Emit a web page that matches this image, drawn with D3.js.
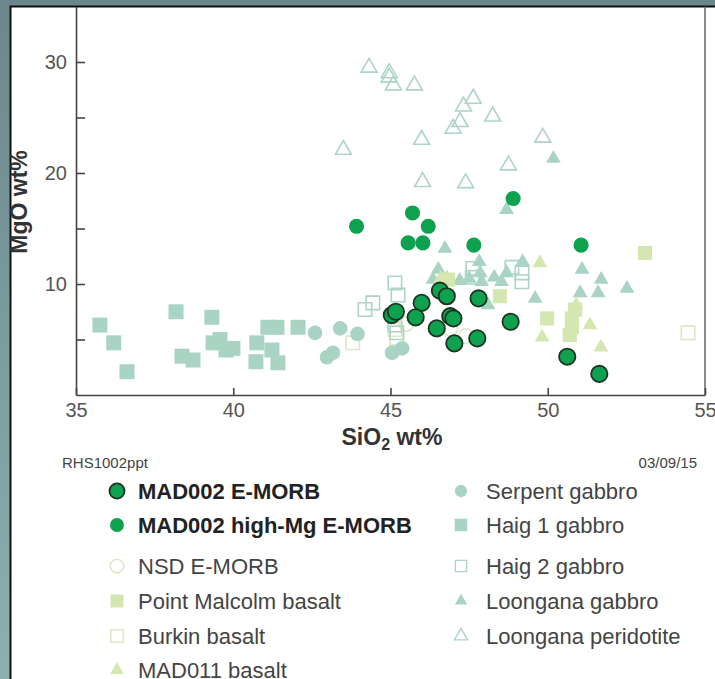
<!DOCTYPE html>
<html>
<head>
<meta charset="utf-8">
<script src="https://cdn.jsdelivr.net/npm/d3@7"></script>
<style>
    html, body { margin: 0; padding: 0; background: #6f8d91; }
    svg { display: block; font-family: "Liberation Sans", Arial, sans-serif; }
</style>
</head>
<body>
<div id="chart"></div>
<script>
// [SiO2 wt%, MgO wt%]
const mad002Emorb = [[45.04,7.2],[45.17,7.5],[45.99,8.3],[45.8,7.0],[46.57,9.4],[46.79,8.9],[46.47,6.0],
    [46.9,7.1],[47.0,6.9],[47.03,4.65],[47.8,8.7],[47.76,5.1],[48.82,6.6],[50.62,3.45],[51.64,1.9]];
const mad002HighMg = [[43.92,15.2],[45.7,16.4],[46.2,15.2],[48.9,17.7],[45.56,13.7],[46.03,13.7],[47.65,13.5],[51.06,13.5]];
const nsdEmorb = [[46.9,6.0],[47.4,5.3],[45.5,6.4]];
const pointMalcolm = [[53.09,12.8],[48.48,8.9],[49.98,6.9],[50.77,6.9],[50.77,6.1],[50.7,5.4],[50.87,7.7],[46.83,10.4]];
const burkin = [[54.46,5.6],[43.8,4.7],[45.15,5.9],[45.2,5.1]];
const mad011 = [[49.75,11.9],[49.82,5.2],[51.34,6.3],[51.69,4.3],[50.9,8.1],[46.6,10.5]];
const serpent = [[42.6,5.6],[43.4,6.0],[42.98,3.4],[43.17,3.8],[43.95,5.5],[45.05,3.8],[45.37,4.2]];
const haig1 = [[35.76,6.3],[36.2,4.7],[36.62,2.1],[38.18,7.5],[38.37,3.5],[38.72,3.15],[39.32,7.0],[39.36,4.7],
    [39.58,5.0],[39.77,4.05],[39.99,4.2],[40.75,4.7],[40.72,3.0],[41.1,6.1],[41.39,6.1],[41.23,4.05],[41.42,2.9],[42.06,6.1]];
const haig2 = [[45.14,10.1],[45.24,9.0],[44.44,8.3],[44.19,7.7],[45.14,6.3],[45.2,5.6],[47.62,11.4],[48.86,11.5],
    [49.18,11.0],[49.18,10.2],[47.6,10.6]];
const loonganaGabbro = [[50.18,21.3],[48.69,16.7],[46.73,13.2],[47.82,12.0],[49.2,12.0],[46.52,11.3],[51.09,11.3],
    [46.8,10.5],[47.2,10.3],[47.5,10.5],[47.85,11.0],[47.9,10.2],[48.69,11.0],[48.53,10.2],[51.7,10.4],[52.52,9.6],
    [51.03,9.2],[51.6,9.2],[49.6,8.7],[48.1,8.1],[46.35,10.4],[48.3,10.6]];
const loonganaPeridotite = [[44.32,29.5],[44.96,29.0],[44.96,28.6],[45.09,27.9],[45.76,27.9],[47.63,26.7],[47.32,26.0],
    [47.21,24.6],[46.99,24.0],[48.25,25.1],[45.99,23.0],[43.5,22.1],[49.84,23.2],[48.75,20.7],[46.02,19.2],[47.39,19.1]];

const xTicks = [35, 40, 45, 50, 55];
const yTicks = [5, 10, 15, 20, 25, 30];
const yLabelled = [10, 20, 30];

const green = '#0ea24f', mint = '#a9d4c3', pale = '#d4e7b0', paleLine = '#dde7c2', mintLine = '#add4c6';

// drawing order = back to front
const series = [
    { name: 'Burkin basalt', data: burkin, shape: d3.symbolSquare, size: 180, fill: 'none', stroke: paleLine, col: 0, row: 4 },
    { name: 'NSD E-MORB', data: nsdEmorb, shape: d3.symbolCircle, size: 170, fill: 'none', stroke: paleLine, col: 0, row: 2 },
    { name: 'Haig 1 gabbro', data: haig1, shape: d3.symbolSquare, size: 225, fill: mint, stroke: 'none', col: 1, row: 1 },
    { name: 'Serpent gabbro', data: serpent, shape: d3.symbolCircle, size: 170, fill: mint, stroke: 'none', col: 1, row: 0 },
    { name: 'Haig 2 gabbro', data: haig2, shape: d3.symbolSquare, size: 180, fill: 'none', stroke: mintLine, col: 1, row: 2 },
    { name: 'Loongana peridotite', data: loonganaPeridotite, shape: d3.symbolTriangle, size: 110, fill: 'none', stroke: mintLine, col: 1, row: 4 },
    { name: 'Loongana gabbro', data: loonganaGabbro, shape: d3.symbolTriangle, size: 95, fill: mint, stroke: 'none', col: 1, row: 3 },
    { name: 'Point Malcolm basalt', data: pointMalcolm, shape: d3.symbolSquare, size: 200, fill: pale, stroke: 'none', col: 0, row: 3 },
    { name: 'MAD011 basalt', data: mad011, shape: d3.symbolTriangle, size: 95, fill: pale, stroke: 'none', col: 0, row: 5 },
    { name: 'MAD002 high-Mg E-MORB', data: mad002HighMg, shape: d3.symbolCircle, size: 180, fill: green, stroke: 'none', col: 0, row: 1, bold: true },
    { name: 'MAD002 E-MORB', data: mad002Emorb, shape: d3.symbolCircle, size: 210, fill: green, stroke: '#1c3324', sw: 1.8, col: 0, row: 0, bold: true }
];

const width = 715, height = 679;
const plot = { left: 76, right: 705, top: 6.5, bottom: 395 };

const svg = d3.select('#chart').append('svg')
    .attr('width', width)
    .attr('height', height);

const grad = svg.append('defs').append('linearGradient')
    .attr('id', 'bg').attr('x1', 0).attr('y1', 0).attr('x2', 0).attr('y2', 1);
grad.append('stop').attr('offset', '0%').attr('stop-color', '#6b878b');
grad.append('stop').attr('offset', '100%').attr('stop-color', '#8db0b1');

svg.append('rect').attr('width', width).attr('height', height).attr('fill', 'url(#bg)');
svg.append('rect')
    .attr('x', 10).attr('y', 6)
    .attr('width', width).attr('height', height)
    .attr('fill', '#fff');
svg.append('path')
    .attr('d', `M10.5,${height} V6.5 H${width}`)
    .attr('fill', 'none').attr('stroke', '#111').attr('stroke-width', 2);

var xScale = d3.scaleLinear().domain([35, 55]).range([plot.left, plot.right]);
var yScale = d3.scaleLinear().domain([0, 35]).range([plot.bottom, plot.top]);

// points
series.forEach(s => {
    svg.append('g')
        .selectAll('path')
        .data(s.data)
        .enter()
        .append('path')
        .attr('transform', d => `translate(${xScale(d[0])},${yScale(d[1])})`)
        .attr('d', d3.symbol().type(s.shape).size(s.size))
        .attr('fill', s.fill)
        .attr('stroke', s.stroke)
        .attr('stroke-width', s.sw || 1.6);
});

// right border of the plot
svg.append('line')
    .attr('x1', plot.right).attr('x2', plot.right)
    .attr('y1', plot.top).attr('y2', plot.bottom)
    .attr('stroke', '#666').attr('stroke-width', 1.5);

var xAxis = d3.axisBottom(xScale)
    .tickValues(xTicks)
    .tickFormat(d3.format('d'))
    .tickSizeInner(-7)
    .tickSizeOuter(0)
    .tickPadding(8);

var yAxis = d3.axisLeft(yScale)
    .tickValues(yTicks)
    .tickFormat(d => yLabelled.includes(d) ? d : '')
    .tickSizeInner(-9)
    .tickSizeOuter(0)
    .tickPadding(9);

[svg.append('g').attr('transform', `translate(0,${plot.bottom})`).call(xAxis),
 svg.append('g').attr('transform', `translate(${plot.left},0)`).call(yAxis)]
    .forEach(g => {
        g.selectAll('path, line').attr('stroke', '#444').attr('stroke-width', 1.6);
        g.selectAll('text').attr('fill', '#555').style('font-size', '20px');
    });

// axis titles
var xLabel = svg.append('text')
    .attr('x', 392).attr('y', 445)
    .attr('text-anchor', 'middle')
    .attr('fill', '#333')
    .style('font-size', '23px').style('font-weight', 'bold');
xLabel.append('tspan').text('SiO');
xLabel.append('tspan').text('2').attr('dy', 5).style('font-size', '16px');
xLabel.append('tspan').text(' wt%').attr('dy', -5);

svg.append('text')
    .attr('transform', 'translate(27,202) rotate(-90)')
    .attr('text-anchor', 'middle')
    .attr('fill', '#333')
    .style('font-size', '23px').style('font-weight', 'bold')
    .text('MgO wt%');

// footer
svg.append('text').attr('x', 62).attr('y', 468)
    .attr('fill', '#444').style('font-size', '15px').text('RHS1002ppt');
svg.append('text').attr('x', 697).attr('y', 468).attr('text-anchor', 'end')
    .attr('fill', '#444').style('font-size', '15px').text('03/09/15');

// legend
const legendRowY = [491, 525, 566, 601, 636, 670];
const legendColX = [117, 461];
var legend = svg.append('g').selectAll('g')
    .data(series)
    .enter()
    .append('g')
    .attr('transform', d => `translate(${legendColX[d.col]},${legendRowY[d.row]})`);

legend.append('path')
    .attr('d', d => d3.symbol().type(d.shape).size(d.col === 1 ? d.size * 0.7 : d.size * 0.85)())
    .attr('fill', d => d.fill)
    .attr('stroke', d => d.stroke)
    .attr('stroke-width', d => d.sw || 1.4);

legend.append('text')
    .attr('x', d => d.col === 0 ? 21 : 25)
    .attr('dy', '0.35em')
    .attr('fill', d => d.bold ? '#222' : '#444')
    .style('font-size', '22px')
    .style('font-weight', d => d.bold ? 'bold' : 'normal')
    .text(d => d.name);
</script>
</body>
</html>
